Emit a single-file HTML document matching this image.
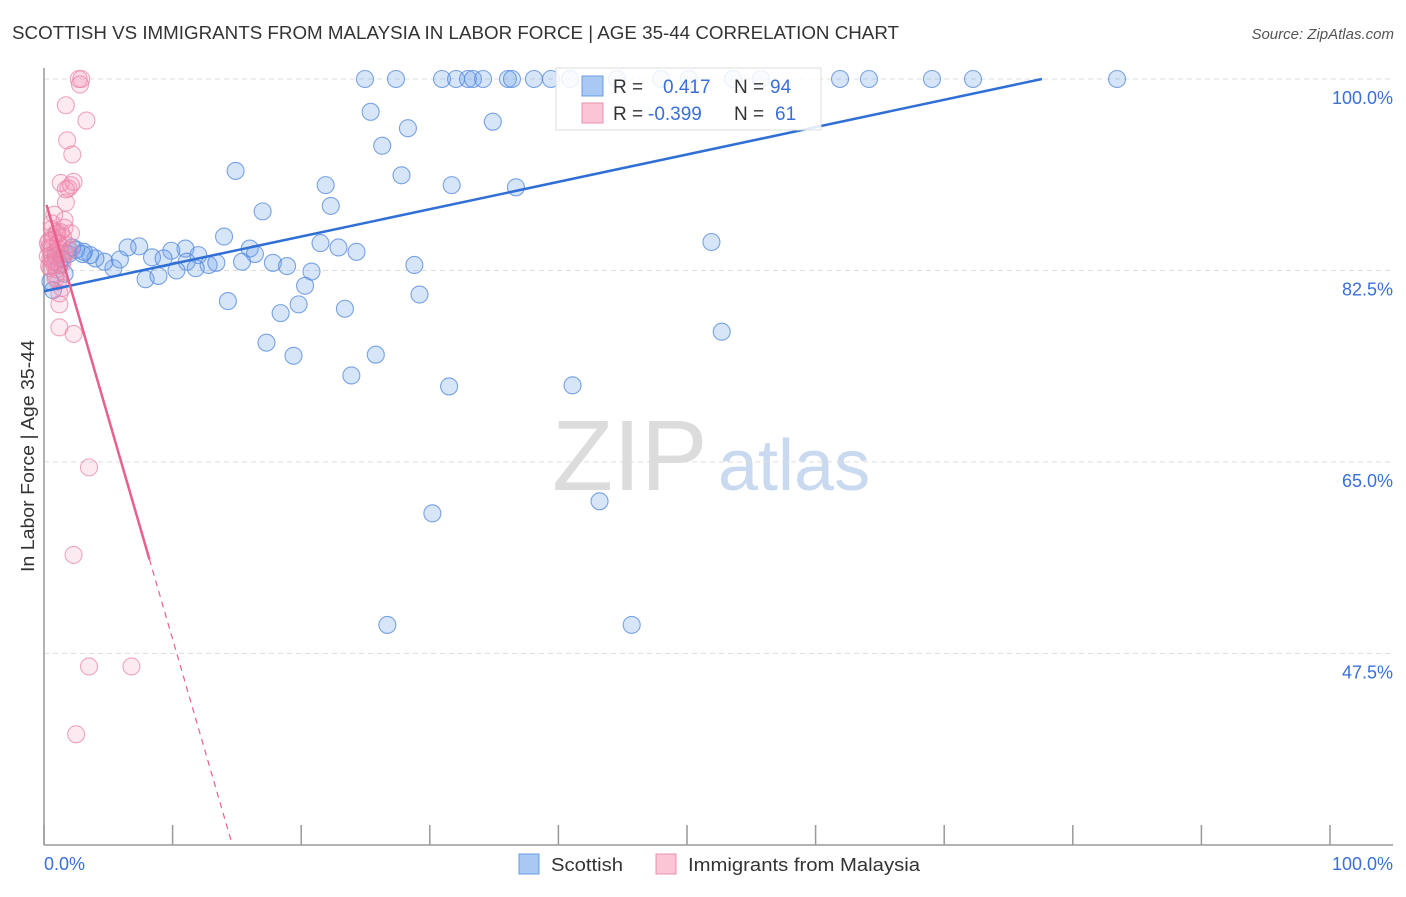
<!DOCTYPE html>
<html><head><meta charset="utf-8"><style>
body{margin:0;background:#fff;font-family:"Liberation Sans",sans-serif}
svg text{font-family:"Liberation Sans",sans-serif}
</style></head><body>
<svg id="chart" width="1406" height="892" viewBox="0 0 1406 892" xmlns="http://www.w3.org/2000/svg">
<text x="12" y="39" font-size="18" fill="#333" textLength="887" lengthAdjust="spacingAndGlyphs">SCOTTISH VS IMMIGRANTS FROM MALAYSIA IN LABOR FORCE | AGE 35-44 CORRELATION CHART</text>
<text x="1394" y="39" font-size="15" fill="#555" font-style="italic" text-anchor="end">Source: ZipAtlas.com</text>
<g>
<text x="552" y="490" font-size="100" fill="#dcdcdc" font-family="Liberation Serif, serif">ZIP</text>
<text x="718" y="490" font-size="72" fill="#c9d9f0">atlas</text>
</g>
<g id="grid"></g>
<g id="axes">
<line x1="44" y1="68" x2="44" y2="845" stroke="#999" stroke-width="1.5"/>
<line x1="44" y1="845" x2="1393" y2="845" stroke="#999" stroke-width="1.5"/>
</g>
<text transform="translate(34,456) rotate(-90)" font-size="18" fill="#333" text-anchor="middle" textLength="232" lengthAdjust="spacingAndGlyphs">In Labor Force | Age 35-44</text>
<text x="44" y="870" font-size="18" fill="#3a6fd8">0.0%</text>
<text x="1393" y="870" font-size="18" fill="#3a6fd8" text-anchor="end">100.0%</text>
<g id="pts"></g>
<g id="lines"></g>
<g>
<rect x="556" y="68" width="265" height="62" fill="#fff" fill-opacity="0.85" stroke="#ddd"/>
<rect x="582" y="76" width="21" height="20" fill="#a9c8f3" stroke="#6a9be0"/>
<rect x="582" y="103" width="21" height="20" fill="#fbc5d5" stroke="#e890ad"/>
<text x="613" y="93" font-size="19" fill="#333">R =</text>
<text x="663" y="93" font-size="19" fill="#3a6fd8">0.417</text>
<text x="734" y="93" font-size="19" fill="#333">N =</text>
<text x="770" y="93" font-size="19" fill="#3a6fd8">94</text>
<text x="613" y="120" font-size="19" fill="#333">R =</text>
<text x="648" y="120" font-size="19" fill="#3a6fd8">-0.399</text>
<text x="734" y="120" font-size="19" fill="#333">N =</text>
<text x="775" y="120" font-size="19" fill="#3a6fd8">61</text>
</g>
<g>
<rect x="519" y="854" width="20" height="20" fill="#a9c8f3" stroke="#6a9be0"/>
<text x="551" y="871" font-size="18" fill="#333" textLength="72" lengthAdjust="spacingAndGlyphs">Scottish</text>
<rect x="656" y="854" width="20" height="20" fill="#fbc5d5" stroke="#e890ad"/>
<text x="688" y="871" font-size="18" fill="#333" textLength="232" lengthAdjust="spacingAndGlyphs">Immigrants from Malaysia</text>
</g>
</svg>
<script>
const yTicks=[100,82.5,65,47.5];
const yTickLabels=["100.0%","82.5%","65.0%","47.5%"];
const xTicks=[0,10,20,30,40,50,60,70,80,90,100];
const scottishX=[24.96,27.37,30.95,32.04,32.97,33.36,34.14,36.08,36.39,38.1,39.42,40.9,44.56,47.98,50.16,53.58,55.75,61.9,64.15,69.05,72.24,83.44,25.4,34.9,28.3,26.3,14.9,27.8,21.9,31.7,36.7,22.3,17.0,14.0,51.9,21.5,22.9,24.3,16.0,16.4,11.0,12.0,9.9,7.4,6.5,8.4,9.3,11.1,12.8,13.4,15.4,17.8,18.9,20.8,28.8,10.3,11.8,7.9,8.9,5.4,4.7,4.0,5.9,3.6,3.1,2.5,1.9,1.4,0.9,0.7,20.3,29.2,14.3,19.8,18.4,23.4,52.7,17.3,19.4,25.8,23.9,31.5,41.1,43.2,30.2,26.7,45.7,1.2,2.2,1.6,3.0,0.5];
const scottishY=[100,100,100,100,100,100,100,100,100,100,100,100,100,100,100,100,100,100,100,100,100,100,97.0,96.1,95.5,93.9,91.6,91.2,90.3,90.3,90.1,88.4,87.9,85.6,85.1,85.0,84.6,84.2,84.5,84.0,84.5,83.9,84.3,84.7,84.6,83.7,83.6,83.3,83.0,83.2,83.3,83.2,82.9,82.4,83.0,82.5,82.7,81.7,82.0,82.7,83.3,83.6,83.5,83.9,84.2,84.4,84.0,83.6,83.8,80.7,81.1,80.3,79.7,79.4,78.6,79.0,76.9,75.9,74.7,74.8,72.9,71.9,72.0,61.4,60.3,50.1,50.1,83.0,84.6,82.2,84.0,81.5];
const malaysiaX=[2.7,2.9,2.8,1.7,3.3,1.8,2.2,1.3,1.9,2.1,1.7,2.3,1.7,0.8,1.6,1.0,1.6,2.1,0.7,1.1,1.2,0.6,0.9,0.5,1.4,0.9,1.1,1.4,1.2,1.2,1.2,2.3,3.5,2.3,3.5,6.8,2.5,0.3,0.6,0.9,1.5,0.5,1.0,0.4,0.8,1.3,0.6,1.8,0.3,0.7,1.0,1.5,0.4,2.0,0.9,0.5,1.3,0.7,1.1,0.4,1.6];
const malaysiaY=[100,100,99.5,97.6,96.2,94.4,93.1,90.5,90.0,90.3,89.9,90.6,88.7,87.6,87.1,86.0,86.4,85.9,85.3,84.9,84.4,83.9,83.3,82.7,83.1,82.1,81.5,80.9,80.4,79.4,77.3,76.7,64.5,56.5,46.3,46.3,40.1,85.0,86.3,84.2,85.5,83.6,85.8,84.6,83.0,84.0,86.8,84.8,83.8,85.6,82.6,83.5,85.2,84.3,81.8,84.5,86.0,83.3,85.0,82.9,84.1];
const blueLine=[80.6,0.25];
const pinkLine=[89.3,-4.05];
const X=v=>44+v*12.86, Y=v=>79+(100-v)*10.94;
const NS="http://www.w3.org/2000/svg";
function mk(t,a,p){const e=document.createElementNS(NS,t);for(const k in a)e.setAttribute(k,a[k]);p.appendChild(e);return e;}
const grid=document.getElementById('grid'),axes=document.getElementById('axes'),svg=document.getElementById('chart');
yTicks.forEach((v,i)=>{
 const l=mk('line',{x1:44,x2:1393,y1:Y(v),y2:Y(v),stroke:'#ddd','stroke-dasharray':'5,4'},grid);
 
 
 const t=mk('text',{x:1393,y:Y(v)+25,'font-size':18,fill:'#3a6fd8','text-anchor':'end'},svg);
 t.textContent=yTickLabels[i];
 
 
});
xTicks.forEach(v=>{
 const l=mk('line',{x1:X(v),x2:X(v),y1:825,y2:845,stroke:'#999','stroke-width':1.5},axes);
 
 
});
const pts=document.getElementById('pts');
scottishX.forEach((x,i)=>{
 const c=mk('circle',{cx:X(x),cy:Y(scottishY[i]),r:8.5,fill:'rgba(110,160,235,0.28)',stroke:'rgba(80,135,220,0.75)','stroke-width':1.1},pts);
 
 
});
malaysiaX.forEach((x,i)=>{
 const c=mk('circle',{cx:X(x),cy:Y(malaysiaY[i]),r:8.5,fill:'rgba(245,140,175,0.18)',stroke:'rgba(232,130,165,0.7)','stroke-width':1.1},pts);
 
 
});
const lines=document.getElementById('lines');
const bxEnd=(100-blueLine[0])/blueLine[1];
const bl=mk('line',{x1:X(0),y1:Y(blueLine[0]),x2:X(bxEnd),y2:Y(100),stroke:'#2f6fd6','stroke-width':2.5},lines);


const pS=0.2,pM=8.2,pE=(30-pinkLine[0])/pinkLine[1];
const py=x=>pinkLine[0]+pinkLine[1]*x;
const pl=mk('line',{x1:X(pS),y1:Y(py(pS)),x2:X(pM),y2:Y(py(pM)),stroke:'#e8608c','stroke-width':2.5},lines);


const pd=mk('line',{x1:X(pM),y1:Y(py(pM)),x2:X(pE),y2:Y(30),stroke:'#e8608c','stroke-width':1.2,'stroke-dasharray':'6,5'},lines);


</script>
</body></html>
